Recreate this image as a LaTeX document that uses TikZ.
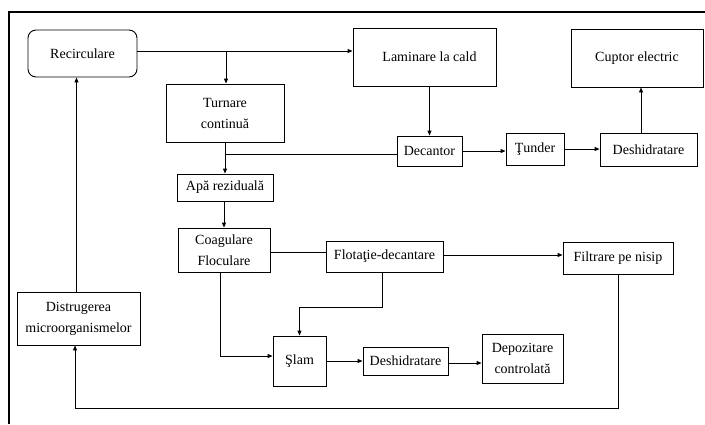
\documentclass[tikz,border=0pt]{standalone}
\usepackage{fontspec}
\setmainfont{Liberation Serif}
\usetikzlibrary{arrows.meta}
\begin{document}
\begin{tikzpicture}[x=1pt,y=-1pt,
  box/.style={draw,line width=0.9pt,inner sep=0pt,align=center,
    font=\fontsize{14}{21}\selectfont},
  link/.style={line width=0.9pt},
  arr/.style={link,-{Triangle[length=5pt,width=4pt]}},
]
\useasboundingbox (0,0) rectangle (705,424);
% page frame (top and left edges)
\draw[line width=2.6pt] (9,424) -- (9,12) -- (705,12);

% process blocks
\node[box,rounded corners=8pt,minimum width=109pt,minimum height=47pt] (rec) at (82.5,53.5) {Recirculare};
\node[box,minimum width=143pt,minimum height=58pt] (lam) at (424.5,57) {\hspace*{10pt}Laminare la cald};
\node[box,minimum width=132pt,minimum height=58pt] (cup) at (637,58) {Cuptor electric};
\node[box,minimum width=118pt,minimum height=58pt] (tur) at (225,113) {Turnare\\continuă};
\node[box,minimum width=96pt,minimum height=27pt] (apa) at (225,187.5) {Apă reziduală};
\node[box,minimum width=65pt,minimum height=30pt] (dec) at (429.5,151) {Decantor};
\node[box,minimum width=58pt,minimum height=32pt] (tun) at (535,149) {Ţunder};
\node[box,minimum width=97pt,minimum height=33pt] (desA) at (648.5,149.5) {Deshidratare};
\node[box,minimum width=92pt,minimum height=44pt] (coag) at (224,250) {Coagulare\\Floculare};
\node[box,minimum width=117pt,minimum height=31pt] (flot) at (384.5,256.5) {Flotaţie-decantare};
\node[box,minimum width=110pt,minimum height=32pt] (filt) at (618,258) {Filtrare pe nisip};
\node[box,minimum width=123pt,minimum height=53pt] (dist) at (78.5,318.5) {Distrugerea\\microorganismelor};
\node[box,minimum width=53pt,minimum height=50pt] (slam) at (299.5,361) {Şlam};
\node[box,minimum width=85pt,minimum height=28pt] (desB) at (405.5,361) {Deshidratare};
\node[box,minimum width=81pt,minimum height=49pt] (dep) at (522.5,358.5) {Depozitare\\controlată};

% junction points
\coordinate (jtop) at (226,51);
\coordinate (jmid) at (225,154);
\coordinate (jfl) at (299.5,307);
\coordinate (jbot) at (0,408);

% upper line
\draw[arr] (rec.east |- jtop) -- (lam.west |- jtop);
\draw[arr] (jtop) -- (jtop |- tur.north);
\draw[arr] (tur.south) -- (apa.north);
\draw[link] (jmid) -- (dec.west |- jmid);
\draw[arr] (lam.south -| dec.north) -- (dec.north);
\draw[arr] (dec.east) -- (tun.west |- dec.east);
\draw[arr] (tun.east) -- (desA.west |- tun.east);
\draw[arr] ([xshift=-7.5pt]desA.north) -- ([xshift=-7.5pt]desA.north |- cup.south);

% water treatment
\draw[arr] ([xshift=-1pt]apa.south) -- ([xshift=-1pt]apa.south |- coag.north);
\draw[link] ([yshift=-2pt]coag.east) -- ([yshift=-2pt]coag.east -| flot.west);
\draw[arr] ([yshift=1.5pt]flot.east) -- ([yshift=1.5pt]flot.east -| filt.west);
\draw[arr] ([xshift=-2.5pt]flot.south) -- ([xshift=-2.5pt]flot.south |- jfl) -- (jfl) -- (slam.north);
\draw[arr] ([xshift=-4pt]coag.south) |- ([yshift=5pt]slam.west);
\draw[arr] (slam.east) -- (desB.west |- slam.east);
\draw[arr] ([yshift=-2pt]desB.east) -- ([yshift=-2pt]desB.east -| dep.west);

% return loop
\draw[arr] (filt.south) -- (filt.south |- jbot) -- ([xshift=-3.5pt]dist.south |- jbot) -- ([xshift=-3.5pt]dist.south);
\draw[arr] ([xshift=-2pt]dist.north) -- ([xshift=-2pt]dist.north |- rec.south);
\end{tikzpicture}
\end{document}
